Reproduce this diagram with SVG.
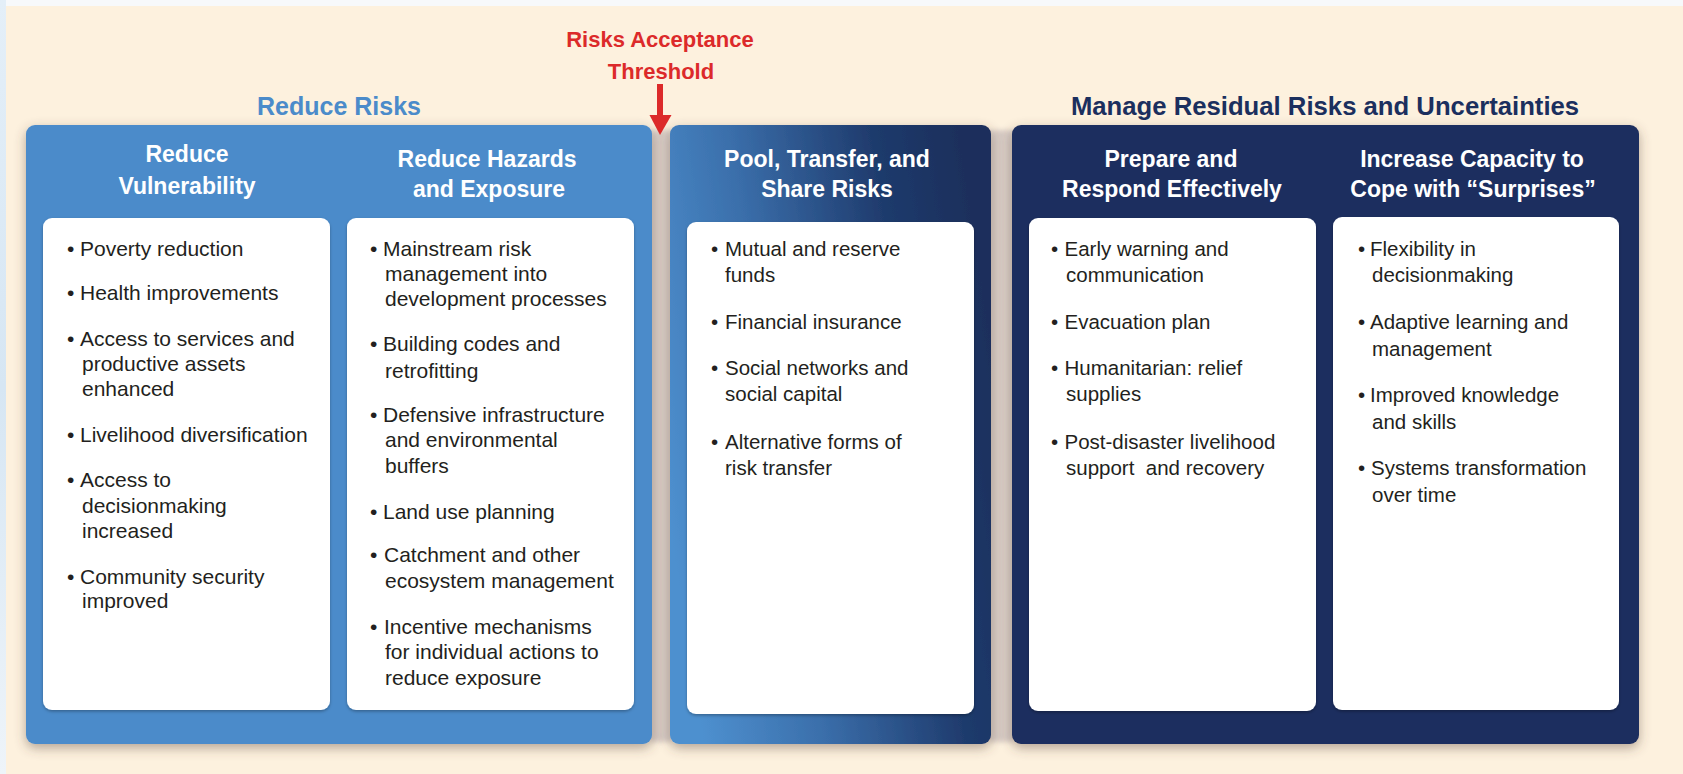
<svg xmlns="http://www.w3.org/2000/svg" width="1683" height="774" viewBox="0 0 1683 774">
<defs>
<filter id="shadow" x="-10%" y="-10%" width="120%" height="125%">
<feDropShadow dx="0" dy="4" stdDeviation="6" flood-color="#5b4638" flood-opacity="0.45"/>
</filter>
<filter id="soft" x="-50%" y="-5%" width="200%" height="110%">
<feGaussianBlur stdDeviation="2.5"/>
</filter>
<filter id="boxshadow" x="-5%" y="-5%" width="110%" height="110%">
<feDropShadow dx="0" dy="1.5" stdDeviation="1.5" flood-color="#000" flood-opacity="0.3"/>
</filter>
<linearGradient id="poolGrad" x1="0" y1="0.65" x2="1" y2="0.35">
<stop offset="0" stop-color="#4e90cf"/>
<stop offset="0.35" stop-color="#3a6eaa"/>
<stop offset="0.75" stop-color="#1f3b6d"/>
<stop offset="1" stop-color="#1a2f5c"/>
</linearGradient>
<linearGradient id="leftEdge" x1="0" y1="0" x2="0" y2="1">
<stop offset="0" stop-color="#e4eff8"/>
<stop offset="0.5" stop-color="#d6e6f3"/>
<stop offset="1" stop-color="#eef4f9"/>
</linearGradient>
<style>
.hdr{font-family:"Liberation Sans",Arial,sans-serif;font-weight:bold;font-size:25px;text-anchor:middle}
.col{font-family:"Liberation Sans",Arial,sans-serif;font-weight:bold;font-size:23px;fill:#ffffff;text-anchor:middle}
.red{font-family:"Liberation Sans",Arial,sans-serif;font-weight:bold;font-size:22px;fill:#dc2a2a;text-anchor:middle}
.item{font-family:"Liberation Sans",Arial,sans-serif;font-size:21px;fill:#231f20}
.item2{font-family:"Liberation Sans",Arial,sans-serif;font-size:20.5px;fill:#231f20}
.box{fill:#ffffff;filter:url(#boxshadow)}
.gap{fill:#d7cbc4;filter:url(#soft)}
</style>
</defs>

<g id="background">
<rect x="0" y="0" width="1683" height="774" fill="#f7f9fb"/>
<rect x="0" y="0" width="6" height="774" fill="url(#leftEdge)"/>
<rect x="6" y="6" width="1677" height="768" fill="#fdf1de"/>
<rect class="gap" x="650" y="130" width="22" height="612"/>
<rect class="gap" x="989" y="130" width="25" height="612"/>
</g>

<g id="panels">
<rect id="panel-reduce" x="26" y="125" width="626" height="619" rx="9" fill="#4b8bca" filter="url(#shadow)"/>
<rect id="panel-pool" x="670" y="125" width="321" height="619" rx="9" fill="url(#poolGrad)" filter="url(#shadow)"/>
<rect id="panel-manage" x="1012" y="125" width="627" height="619" rx="9" fill="#1b2f5e" filter="url(#shadow)"/>
</g>

<g id="group-labels">
<text class="hdr" x="339" y="115" fill="#4b8bca">Reduce Risks</text>
<text class="hdr" x="1325" y="115" fill="#1b2f5e" style="font-size:25.7px">Manage Residual Risks and Uncertainties</text>
<text class="red" x="660" y="47">Risks Acceptance</text>
<text class="red" x="661" y="79">Threshold</text>
</g>

<g id="connectors">
<rect x="657" y="84" width="6" height="33" fill="#dc2a2a"/>
<polygon points="649.5,115 671.5,115 660,135" fill="#dc2a2a"/>
</g>

<g id="node-reduce-vulnerability">
<text class="col" x="187" y="162">Reduce</text>
<text class="col" x="187" y="194">Vulnerability</text>
<rect class="box" x="43" y="218" width="287" height="492" rx="9"/>
<text class="item" y="255.6"><tspan x="67">•</tspan><tspan x="80">Poverty reduction</tspan></text>
<text class="item" y="300"><tspan x="67">•</tspan><tspan x="80">Health improvements</tspan></text>
<text class="item" y="346.4"><tspan x="67">•</tspan><tspan x="80">Access to services and</tspan></text>
<text class="item" x="82" y="371">productive assets</text>
<text class="item" x="82" y="395.8">enhanced</text>
<text class="item" y="441.6"><tspan x="67">•</tspan><tspan x="80">Livelihood diversification</tspan></text>
<text class="item" y="487.3"><tspan x="67">•</tspan><tspan x="80">Access to</tspan></text>
<text class="item" x="82" y="513">decisionmaking</text>
<text class="item" x="82" y="537.5">increased</text>
<text class="item" y="584"><tspan x="67">•</tspan><tspan x="80">Community security</tspan></text>
<text class="item" x="82" y="608">improved</text>
</g>

<g id="node-reduce-hazards">
<text class="col" x="487" y="167">Reduce Hazards</text>
<text class="col" x="489" y="197">and Exposure</text>
<rect class="box" x="347" y="218" width="287" height="492" rx="9"/>
<text class="item" y="255.6"><tspan x="370">•</tspan><tspan x="383">Mainstream risk</tspan></text>
<text class="item" x="385" y="280.5">management into</text>
<text class="item" x="385" y="306">development processes</text>
<text class="item" y="350.8"><tspan x="370">•</tspan><tspan x="383">Building codes and</tspan></text>
<text class="item" x="385" y="377.5">retrofitting</text>
<text class="item" y="421.5"><tspan x="370">•</tspan><tspan x="383">Defensive infrastructure</tspan></text>
<text class="item" x="385" y="447">and environmental</text>
<text class="item" x="385" y="472.7">buffers</text>
<text class="item" y="518.5"><tspan x="370">•</tspan><tspan x="383">Land use planning</tspan></text>
<text class="item" y="562.4"><tspan x="370">•</tspan><tspan x="384">Catchment and other</tspan></text>
<text class="item" x="385" y="588">ecosystem management</text>
<text class="item" y="633.7"><tspan x="370">•</tspan><tspan x="384">Incentive mechanisms</tspan></text>
<text class="item" x="385" y="659.4">for individual actions to</text>
<text class="item" x="385" y="685">reduce exposure</text>
</g>

<g id="node-pool-transfer">
<text class="col" x="827" y="167">Pool, Transfer, and</text>
<text class="col" x="827" y="197">Share Risks</text>
<rect class="box" x="687" y="222" width="287" height="492" rx="9"/>
<text class="item2" y="255.5"><tspan x="711">•</tspan><tspan x="725">Mutual and reserve</tspan></text>
<text class="item2" x="725" y="281.5">funds</text>
<text class="item2" y="329"><tspan x="711">•</tspan><tspan x="725">Financial insurance</tspan></text>
<text class="item2" y="375"><tspan x="711">•</tspan><tspan x="725">Social networks and</tspan></text>
<text class="item2" x="725" y="401">social capital</text>
<text class="item2" y="449"><tspan x="711">•</tspan><tspan x="725">Alternative forms of</tspan></text>
<text class="item2" x="725" y="475">risk transfer</text>
</g>

<g id="node-prepare-respond">
<text class="col" x="1171" y="167">Prepare and</text>
<text class="col" x="1172" y="197">Respond Effectively</text>
<rect class="box" x="1029" y="218" width="287" height="493" rx="9"/>
<text class="item2" y="255.5"><tspan x="1051">•</tspan><tspan x="1064.5">Early warning and</tspan></text>
<text class="item2" x="1066" y="281.5">communication</text>
<text class="item2" y="329"><tspan x="1051">•</tspan><tspan x="1064.5">Evacuation plan</tspan></text>
<text class="item2" y="375"><tspan x="1051">•</tspan><tspan x="1064.5">Humanitarian: relief</tspan></text>
<text class="item2" x="1066" y="401">supplies</text>
<text class="item2" y="449"><tspan x="1051">•</tspan><tspan x="1064.5">Post-disaster livelihood</tspan></text>
<text class="item2" x="1066" y="475" xml:space="preserve">support  and recovery</text>
</g>

<g id="node-increase-capacity">
<text class="col" x="1472" y="167">Increase Capacity to</text>
<text class="col" x="1473" y="197">Cope with “Surprises”</text>
<rect class="box" x="1333" y="217" width="286" height="493" rx="9"/>
<text class="item2" y="255.5"><tspan x="1358">•</tspan><tspan x="1370">Flexibility in</tspan></text>
<text class="item2" x="1372" y="282">decisionmaking</text>
<text class="item2" y="329"><tspan x="1358">•</tspan><tspan x="1370">Adaptive learning and</tspan></text>
<text class="item2" x="1372" y="355.5">management</text>
<text class="item2" y="402"><tspan x="1358">•</tspan><tspan x="1370">Improved knowledge</tspan></text>
<text class="item2" x="1372" y="428.5">and skills</text>
<text class="item2" y="475"><tspan x="1358">•</tspan><tspan x="1371">Systems transformation</tspan></text>
<text class="item2" x="1372" y="501.5">over time</text>
</g>
</svg>
